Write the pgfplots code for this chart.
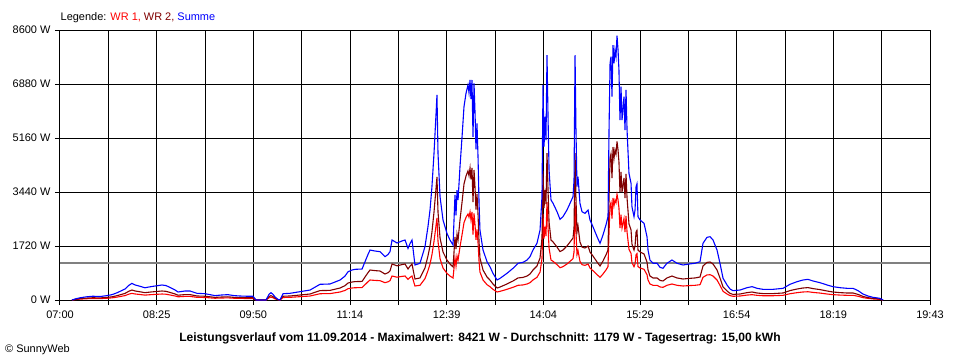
\documentclass[border=0pt]{standalone}
\usepackage{pgfplots}
\pgfplotsset{compat=1.18}
\usepackage{pgfplotstable}
\usepackage{fontspec}
\setmainfont{Liberation Sans}
\definecolor{wrone}{RGB}{255,0,0}
\definecolor{wrtwo}{RGB}{128,0,0}
\definecolor{summe}{RGB}{0,0,255}
\definecolor{avg}{RGB}{128,128,128}
% t = minutes after 07:00; S = Summe, W2 = WR 2, W1 = WR 1 (W)
\pgfplotstableread{
t S W2 W1
10.5 0 0 0
14.0 40 24 16
17.5 70 42 28
22.8 100 60 40
28.9 120 72 48
35.1 110 66 44
41.2 140 84 56
45.6 170 102 68
50.0 230 138 92
53.5 290 174 116
57.0 350 210 140
60.5 470 282 188
63.1 530 318 212
65.8 480 288 192
68.4 455 273 182
74.5 390 234 156
78.9 420 252 168
83.3 445 267 178
89.5 478 287 191
93.0 460 276 184
96.5 400 240 160
100.9 320 192 128
103.5 255 153 102
109.6 287 172 115
114.0 287 172 115
120.1 213 128 85
127.2 200 120 80
131.6 170 102 68
135.9 140 84 56
142.1 160 96 64
147.3 170 102 68
152.6 140 84 56
157.9 127 76 51
164.0 120 72 48
169.3 118 71 47
171.9 0 0 0
180.7 0 0 0
183.3 180 108 72
185.0 233 140 93
186.8 180 108 72
188.6 95 57 38
191.2 20 12 8
192.9 0 0 0
195.6 200 120 80
201.7 213 128 85
210.5 265 159 106
219.3 318 191 127
228.0 500 300 200
236.8 510 306 204
245.6 637 382 255
249.9 760 456 304
252.6 900 540 360
256.1 955 573 382
258.7 977 586 391
264.9 987 592 395
267.5 1220 732 488
270.1 1450 870 580
271.9 1592 955 637
276.3 1560 936 624
280.6 1540 924 616
285.0 1380 828 552
287.7 1450 870 580
289.4 1540 924 616
291.2 1911 1147 764
295.6 1815 1089 726
299.9 1880 1128 752
302.6 1911 1147 764
305.2 1645 987 658
307.0 1800 1080 720
308.7 1911 1147 764
311.3 1115 669 446
315.7 1170 702 468
320.1 1700 1020 680
322.7 2335 1401 934
324.5 2866 1720 1146
326.2 3610 2166 1444
328.0 4670 2802 1868
329.8 5945 3567 2378
330.6 6530 3918 2612
331.5 4680 2808 1872
333.3 3290 1974 1316
335.9 2548 1529 1019
339.4 2120 1272 848
342.0 1911 1147 764
344.7 1752 1051 701
346.4 3345 2007 1338
347.3 2700 1620 1080
348.2 3500 2100 1400
349.1 3185 1911 1274
350.8 4246 2548 1698
352.6 5200 3120 2080
354.3 6158 3695 2463
356.1 6590 3954 2636
357.8 6848 4109 2739
358.7 6600 3960 2640
359.6 7007 4204 2803
360.4 6400 3840 2560
361.3 7007 4204 2803
362.2 5200 3120 2080
363.1 6900 4140 2760
364.0 5950 3570 2380
364.8 4800 2880 1920
365.7 5626 3376 2250
366.6 4565 2739 1826
367.5 3090 1854 1236
368.3 2230 1338 892
371.0 1592 955 637
374.5 1220 732 488
377.1 1060 636 424
379.7 850 510 340
383.3 637 382 255
385.9 690 414 276
392.0 850 510 340
397.3 1010 606 404
401.7 1170 702 468
406.1 1200 720 480
409.6 1274 764 510
412.2 1380 828 552
414.8 1592 955 637
418.3 1805 1083 722
421.0 2230 1338 892
422.7 3290 1974 1316
423.6 6848 4109 2739
424.5 4882 2929 1953
425.4 5838 3503 2335
426.2 5096 3058 2038
427.1 7800 4680 3120
428.0 5838 3503 2335
428.9 4140 2484 1656
430.6 3185 1911 1274
432.4 3080 1848 1232
435.9 2812 1687 1125
438.5 2570 1542 1028
441.1 2654 1592 1062
444.6 2866 1720 1146
447.3 3080 1848 1232
449.9 3290 1974 1316
450.8 3822 2293 1529
451.7 7800 4680 3120
452.5 5415 3249 2166
453.4 3610 2166 1444
454.3 3927 2356 1571
456.0 3080 1848 1232
457.8 2812 1687 1125
460.4 2760 1656 1104
463.1 2866 1720 1146
464.8 2548 1529 1019
467.4 2335 1401 934
471.0 2016 1210 806
473.6 1805 1083 722
476.2 2070 1242 828
478.8 2390 1434 956
480.6 2654 1592 1062
481.5 5415 3249 2166
482.4 7540 4524 3016
483.2 7750 4650 3100
484.1 6475 3885 2590
485.0 8120 4872 3248
485.9 7540 4524 3016
486.7 7960 4776 3184
487.6 7750 4650 3100
488.5 8421 5053 3368
489.4 7960 4776 3184
490.2 7325 4395 2930
491.1 5733 3440 2293
492.0 6795 4077 2718
492.9 5733 3440 2293
494.6 6475 3885 2590
495.5 5415 3249 2166
496.4 6690 4014 2676
497.3 5415 3249 2166
499.0 4035 2421 1614
500.8 3716 2230 1486
501.6 2972 1783 1189
503.4 2654 1592 1062
504.3 2866 1720 1146
505.2 3610 2166 1444
506.0 3700 2220 1480
506.9 2654 1592 1062
508.7 2548 1529 1019
512.2 2442 1465 977
514.8 2016 1210 806
515.7 1592 955 637
517.4 1274 764 510
520.1 1170 702 468
523.6 1170 702 468
526.2 1040 624 416
528.8 1010 606 404
532.3 1170 702 468
536.7 1274 764 510
541.1 1170 702 468
546.4 1115 669 446
552.5 1150 690 460
556.9 1170 702 468
561.3 1220 732 488
563.9 1805 1083 722
567.4 1996 1198 798
570.1 2016 1210 806
572.7 1911 1147 764
576.2 1592 955 637
578.8 1170 702 468
581.5 690 414 276
585.0 478 287 191
587.6 350 210 140
590.2 297 178 119
596.4 318 191 127
602.5 392 235 157
606.9 425 255 170
611.3 372 223 149
616.5 340 204 136
625.3 340 204 136
634.1 372 223 149
640.2 500 300 200
646.4 584 350 234
651.6 637 382 255
656.0 658 395 263
660.4 605 363 242
666.5 552 331 221
672.7 478 287 191
677.9 425 255 170
684.1 392 235 157
690.2 372 223 149
695.5 372 223 149
699.9 297 178 119
704.2 191 115 76
708.6 127 76 51
713.0 85 51 34
719.1 53 32 21
721.8 0 0 0
}\data

\begin{document}
\begin{tikzpicture}[x=1bp,y=1bp,font=\fontsize{11}{13}\selectfont]
\useasboundingbox (-60,-60) rectangle (900,300);
\begin{axis}[
  at={(0,0)}, anchor=south west,
  width=870bp, height=270bp, scale only axis,
  xmin=0, xmax=763, ymin=0, ymax=8600,
  xtick={0,84.778,169.556,254.333,339.111,423.889,508.667,593.444,678.222,763},
  xticklabels={07:00,08:25,09:50,11:14,12:39,14:04,15:29,16:54,18:19,19:43},
  minor xtick={42.389,127.167,211.944,296.722,381.5,466.278,551.056,635.833,720.611},
  ytick={0,1720,3440,5160,6880,8600},
  yticklabels={0 W,1720 W,3440 W,5160 W,6880 W,8600 W},
  grid=both,
  major grid style={black, line width=1bp},
  minor grid style={black, line width=1bp},
  axis line style={black, line width=1bp},
  tick align=outside,
  major tick length=5bp, minor tick length=5bp,
  every tick/.style={black, line width=1bp},
  minor tick style={black, line width=1bp},
  xtick pos=bottom, ytick pos=left,
  tick label style={font=\fontsize{11}{13}\selectfont},
  xticklabel style={yshift=-2bp},
  yticklabel style={xshift=-1bp},
  /pgf/number format/assume math mode=true,
]
\addplot[avg, line width=1.1bp, forget plot] coordinates {(0,1179) (763,1179)};
\addplot[wrone, line width=1.1bp, sharp plot] table[x=t, y=W1] {\data};
\addplot[wrtwo, line width=1.1bp, sharp plot] table[x=t, y=W2] {\data};
\addplot[summe, line width=1.1bp, sharp plot] table[x=t, y=S] {\data};
\end{axis}
\node[anchor=base west, inner sep=0] at (0.5,279.5) {Legende: \textcolor{wrone}{WR 1,} \textcolor{wrtwo}{WR 2,} \textcolor{summe}{Summe}};
\node[anchor=base, inner sep=0, font=\fontsize{12.1}{14}\selectfont\bfseries] at (420,-41) {Leistungsverlauf vom 11.09.2014 - Maximalwert: 8421 W - Durchschnitt: 1179 W - Tagesertrag: 15,00 kWh};
\node[anchor=base west, inner sep=0, font=\fontsize{11}{13}\selectfont] at (-55,-52) {\textcopyright{} SunnyWeb};
\end{tikzpicture}
\end{document}
